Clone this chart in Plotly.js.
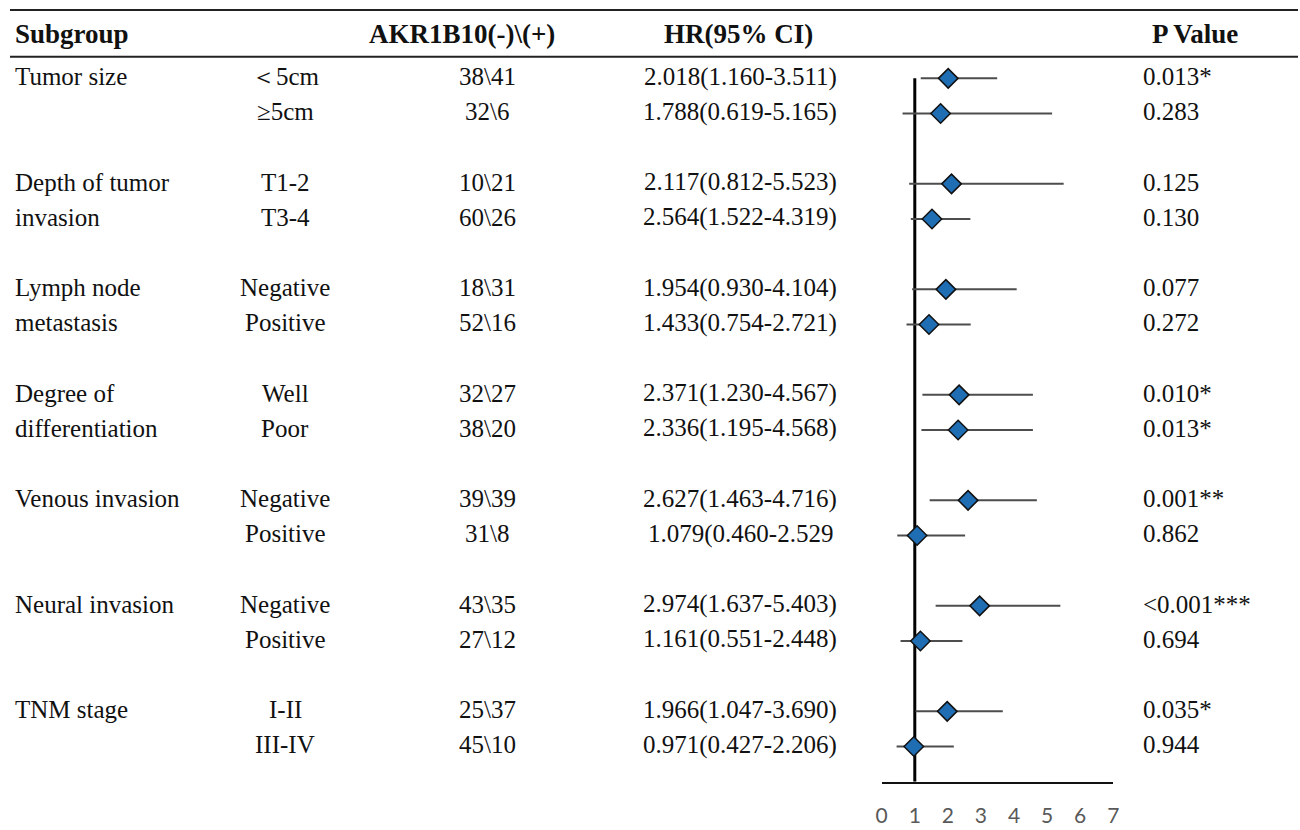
<!DOCTYPE html>
<html>
<head>
<meta charset="utf-8">
<script src="https://cdn.plot.ly/plotly-3.0.1.min.js"></script>
<style>html,body{margin:0;padding:0;background:#fff;}#chart{width:1300px;height:830px;}</style>
</head>
<body>
<div id="chart"></div>
<script>
// ---- data ----
const rowSlot = [0, 1, 3, 4, 6, 7, 9, 10, 12, 13, 15, 16, 18, 19];
const groupLabel = ["Tumor size", "", "Depth of tumor", "invasion", "Lymph node", "metastasis",
  "Degree of", "differentiation", "Venous invasion", "", "Neural invasion", "", "TNM stage", ""];
const subLabel = ["＜5cm", "≥5cm", "T1-2", "T3-4", "Negative", "Positive", "Well", "Poor",
  "Negative", "Positive", "Negative", "Positive", "I-II", "III-IV"];
const counts = ["38\\41", "32\\6", "10\\21", "60\\26", "18\\31", "52\\16", "32\\27", "38\\20",
  "39\\39", "31\\8", "43\\35", "27\\12", "25\\37", "45\\10"];
const hrText = ["2.018(1.160-3.511)", "1.788(0.619-5.165)", "2.117(0.812-5.523)", "2.564(1.522-4.319)",
  "1.954(0.930-4.104)", "1.433(0.754-2.721)", "2.371(1.230-4.567)", "2.336(1.195-4.568)",
  "2.627(1.463-4.716)", "1.079(0.460-2.529", "2.974(1.637-5.403)", "1.161(0.551-2.448)",
  "1.966(1.047-3.690)", "0.971(0.427-2.206)"];
const pText = ["0.013*", "0.283", "0.125", "0.130", "0.077", "0.272", "0.010*", "0.013*",
  "0.001**", "0.862", "<0.001***", "0.694", "0.035*", "0.944"];
// plotted positions as drawn in the figure
const hrPlot = [2.01, 1.78, 2.11, 1.52, 1.94, 1.43, 2.34, 2.31, 2.61, 1.07, 2.96, 1.17, 1.98, 0.97];
const loPlot = [1.18, 0.63, 0.83, 0.88, 0.92, 0.75, 1.23, 1.20, 1.45, 0.47, 1.63, 0.57, 1.02, 0.45];
const hiPlot = [3.49, 5.15, 5.50, 2.68, 4.08, 2.69, 4.57, 4.57, 4.69, 2.52, 5.40, 2.44, 3.66, 2.18];
const headers = ["Subgroup", "AKR1B10(-)\\(+)", "HR(95% CI)", "P Value"];
const xTicks = [0, 1, 2, 3, 4, 5, 6, 7];
const refLine = 1;

// ---- layout helpers ----
const W = 1300, H = 830;
const px = v => v / W;
const serif = "Liberation Serif, Times New Roman, serif";
const fReg = {family: serif, size: 25, color: "#111"};
const fBold = {family: serif, size: 27, color: "#111", weight: "bold"};

const ciX = [], ciY = [];
for (let i = 0; i < rowSlot.length; i++) {
  ciX.push(loPlot[i], hiPlot[i], null);
  ciY.push(rowSlot[i], rowSlot[i], null);
}

const traces = [
  {type: "scatter", mode: "lines", x: ciX, y: ciY, line: {color: "#4d4d4d", width: 2},
   hoverinfo: "skip", showlegend: false, cliponaxis: false},
  {type: "scatter", mode: "markers", x: hrPlot, y: rowSlot,
   marker: {symbol: "diamond", size: 15, color: "#1f6db3", line: {color: "#111", width: 1.5}},
   showlegend: false, cliponaxis: false}
];

const ann = [];
const headerX = [{x: 13, a: "left"}, {x: 462, a: "center"}, {x: 738, a: "center"}, {x: 1195, a: "center"}];
headers.forEach((h, i) => ann.push({xref: "paper", yref: "y", x: px(headerX[i].x), y: -1.25,
  text: h, showarrow: false, xanchor: headerX[i].a, yanchor: "middle", font: fBold}));
for (let i = 0; i < rowSlot.length; i++) {
  const y = rowSlot[i] - 0.05;
  if (groupLabel[i]) ann.push({xref: "paper", yref: "y", x: px(13), y: y, text: groupLabel[i],
    showarrow: false, xanchor: "left", yanchor: "middle", font: fReg});
  ann.push({xref: "paper", yref: "y", x: px(285), y: y, text: subLabel[i], showarrow: false,
    xanchor: "center", yanchor: "middle", font: fReg});
  ann.push({xref: "paper", yref: "y", x: px(487), y: y, text: counts[i], showarrow: false,
    xanchor: "center", yanchor: "middle", font: fReg});
  ann.push({xref: "paper", yref: "y", x: px(740), y: y, text: hrText[i], showarrow: false,
    xanchor: "center", yanchor: "middle", font: fReg});
  ann.push({xref: "paper", yref: "y", x: px(1141), y: y, text: pText[i], showarrow: false,
    xanchor: "left", yanchor: "middle", font: fReg});
}

const shapes = [
  {type: "line", xref: "paper", yref: "paper", x0: px(10), x1: px(1298), y0: 1 - 10 / H, y1: 1 - 10 / H,
   line: {color: "#222", width: 2}},
  {type: "line", xref: "paper", yref: "paper", x0: px(10), x1: px(1298), y0: 1 - 56.7 / H, y1: 1 - 56.7 / H,
   line: {color: "#222", width: 2}},
  {type: "line", xref: "x", yref: "y", x0: refLine, x1: refLine, y0: 0, y1: 20,
   line: {color: "#000", width: 3}, layer: "below"}
];

const layout = {
  width: W, height: H, margin: {l: 0, r: 0, t: 0, b: 0},
  paper_bgcolor: "#fff", plot_bgcolor: "rgba(0,0,0,0)", showlegend: false,
  xaxis: {domain: [881.7 / W, 1113.3 / W], range: [0, 7], tickvals: xTicks, ticktext: xTicks.map(String),
    showgrid: false, zeroline: false, showline: true, linecolor: "#111", linewidth: 2.5,
    ticks: "outside", ticklen: 14, tickcolor: "rgba(0,0,0,0)",
    tickfont: {family: "Lato, Open Sans, sans-serif", size: 21, color: "#595959"}, fixedrange: true},
  yaxis: {domain: [48.3 / H, 1], range: [20, -2.228], showgrid: false, zeroline: false,
    showline: false, showticklabels: false, ticks: "", fixedrange: true},
  annotations: ann, shapes: shapes
};

Plotly.newPlot("chart", traces, layout, {displayModeBar: false, staticPlot: true});
</script>
</body>
</html>
